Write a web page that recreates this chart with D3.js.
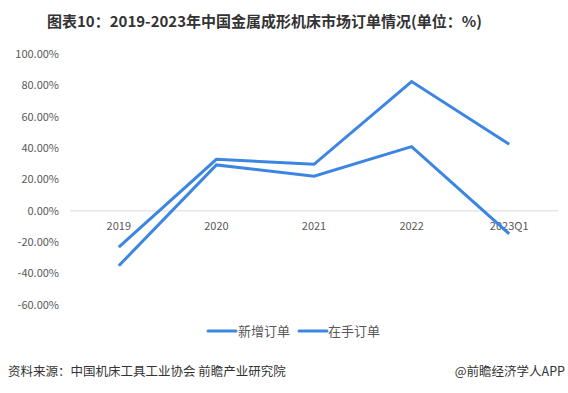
<!DOCTYPE html>
<html><head><meta charset="utf-8">
<script src="https://cdn.jsdelivr.net/npm/d3@7"></script>
<style>
body{margin:0;background:#fff;}
text{font-family:"Noto Sans CJK SC","Noto Sans",sans-serif;}
</style></head>
<body><svg id="c" width="568" height="393"></svg>
<script>
const categories = ["2019","2020","2021","2022","2023Q1"];
const newOrders = [-23.1, 32.9, 29.7, 82.4, 42.5];
const backlogOrders = [-35.0, 29.3, 22.1, 41.0, -14.6];
const seriesNames = ["新增订单","在手订单"];
const yTicks = [100,80,60,40,20,0,-20,-40,-60];

const svg = d3.select("#c");
const color = "#3c86e2";

svg.append("text").attr("x",47).attr("y",27).attr("font-size",15).attr("font-weight","bold")
  .attr("fill","#333").text("图表10：2019-2023年中国金属成形机床市场订单情况(单位：%)");

const x = d3.scaleBand().domain(categories).range([70,558]);
const y = d3.scaleLinear().domain([-60,100]).range([305,54]);

// y labels
svg.append("g").selectAll("text").data(yTicks).join("text")
  .attr("x",59).attr("y",d=>y(d)).attr("dy","0.35em").attr("text-anchor","end")
  .attr("font-size",11).attr("fill","#595959").text(d=>d.toFixed(2)+"%");

// zero line
svg.append("line").attr("x1",70).attr("x2",558).attr("y1",y(0)).attr("y2",y(0))
  .attr("stroke","#d9d9d9").attr("stroke-width",1);

// x labels
svg.append("g").selectAll("text").data(categories).join("text")
  .attr("x",d=>x(d)+x.bandwidth()/2).attr("y",y(0)+19).attr("text-anchor","middle")
  .attr("font-size",11).attr("fill","#595959").text(d=>d);

const line = d3.line().x((d,i)=>x(categories[i])+x.bandwidth()/2).y(d=>y(d));
[newOrders, backlogOrders].forEach(s=>{
  svg.append("path").attr("d",line(s)).attr("fill","none").attr("stroke",color)
    .attr("stroke-width",3).attr("stroke-linejoin","miter");
});

// legend
const lg = [[208,238],[299,328]];
seriesNames.forEach((n,i)=>{
  svg.append("line").attr("x1",lg[i][0]).attr("x2",lg[i][0]+28).attr("y1",331).attr("y2",331)
    .attr("stroke",color).attr("stroke-width",3).attr("stroke-linecap","round");
  svg.append("text").attr("x",lg[i][1]).attr("y",331).attr("dy","0.35em")
    .attr("font-size",13).attr("fill","#595959").text(n);
});

// footer
svg.append("text").attr("x",8).attr("y",376).attr("font-size",12.5).attr("fill","#333")
  .text("资料来源：中国机床工具工业协会 前瞻产业研究院");
svg.append("text").attr("x",565).attr("y",376).attr("text-anchor","end").attr("font-size",12.5).attr("fill","#333")
  .text("@前瞻经济学人APP");
</script></body></html>
